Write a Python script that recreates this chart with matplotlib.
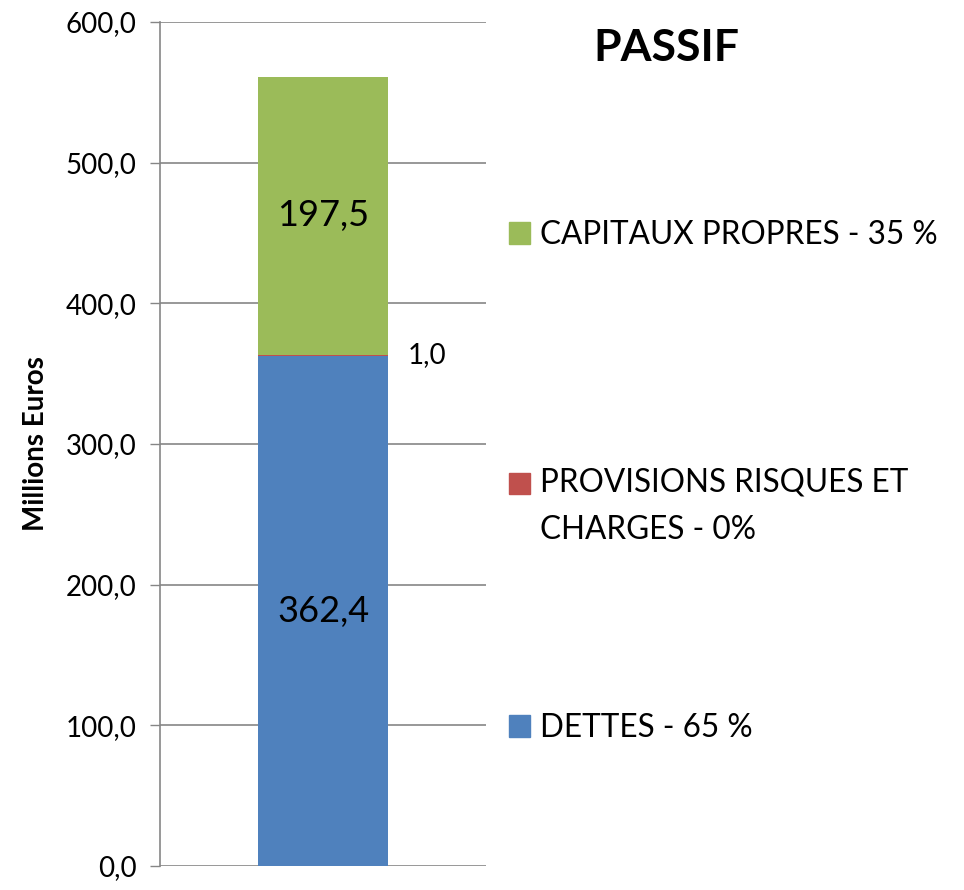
import matplotlib.pyplot as plt
from matplotlib.patches import Patch, Rectangle
from matplotlib.legend_handler import HandlerPatch

plt.rcParams['font.family'] = ['Lato', 'DejaVu Sans']

# Passif data (millions of euros)
categories = ['DETTES - 65 %', 'PROVISIONS RISQUES ET\nCHARGES - 0%', 'CAPITAUX PROPRES - 35 %']
values = [362.4, 1.0, 197.5]
colors = ['#4F81BD', '#C0504D', '#9BBB59']
value_labels = ['362,4', '1,0', '197,5']
y_ticks = [0, 100, 200, 300, 400, 500, 600]
y_ticklabels = ['0,0', '100,0', '200,0', '300,0', '400,0', '500,0', '600,0']

fig = plt.figure(figsize=(9.64, 8.90), dpi=100)
ax = fig.add_axes([160 / 964, 1 - 866 / 890, 326 / 964, 844 / 890])

bottom = 0
bars = []
for val, col in zip(values, colors):
    b = ax.bar(0, val, width=0.4, bottom=bottom, color=col, zorder=3)
    bars.append(b)
    bottom += val

# value labels
ax.bar_label(bars[0], labels=[value_labels[0]], label_type='center', fontsize=26)
ax.bar_label(bars[2], labels=[value_labels[2]], label_type='center', fontsize=26)
ax.annotate(value_labels[1], xy=(0.2, values[0] + values[1] / 2), xytext=(28, 0),
            textcoords='offset points', ha='center', va='center', fontsize=20)

ax.set_xlim(-0.5, 0.5)
ax.set_ylim(0, 600)
ax.set_yticks(y_ticks)
ax.set_yticklabels(y_ticklabels, fontsize=20)
ax.set_xticks([])
ax.tick_params(axis='y', length=7, width=1, color='#868686', pad=10)
ax.yaxis.grid(True, color='#868686', linewidth=1.2, zorder=0)
for s in ['top', 'right', 'bottom']:
    ax.spines[s].set_visible(False)
ax.spines['left'].set_color('#868686')
ax.spines['left'].set_linewidth(1.2)
ax.set_ylabel('Millions Euros', fontsize=20, fontweight='bold', labelpad=12)

fig.text(0.691, 0.946, 'PASSIF', fontsize=32, fontweight='bold', ha='center', va='center')


def top_square(legend, orig_handle, xdescent, ydescent, width, height, fontsize):
    # keep the square aligned with the first line of a two-line label
    return Rectangle((-xdescent, -ydescent + 17), width, height)


legend_y = [728, 506, 235]
for cat, col, ly in zip(categories, colors, legend_y):
    kw = {}
    if '\n' in cat:
        kw['handler_map'] = {Patch: HandlerPatch(patch_func=top_square)}
    leg = fig.legend(handles=[Patch(color=col)], labels=[cat], loc='center left',
                     bbox_to_anchor=(509 / 964, 1 - ly / 890), frameon=False,
                     fontsize=22.7, handlelength=0.68, handleheight=0.68,
                     handletextpad=0.3, borderpad=0, borderaxespad=0, **kw)
    leg.get_texts()[0].set_linespacing(1.75)

fig.savefig('out.png', dpi=100)
